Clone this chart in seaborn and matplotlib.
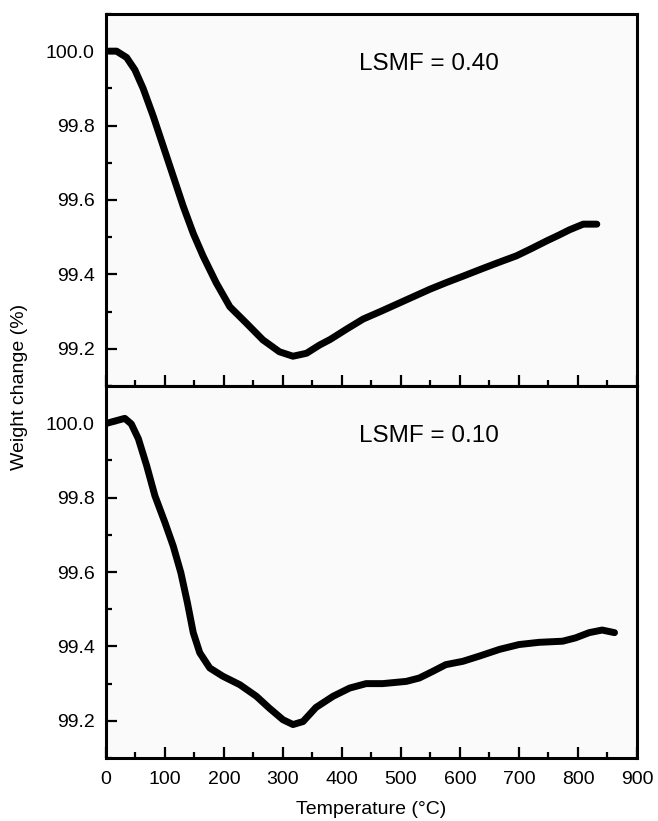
import pandas as pd
import matplotlib.pyplot as plt
import seaborn as sns
from matplotlib.ticker import MultipleLocator

# Curva TGA para LSMF = 0.40 (painel superior)
temp_040 = [5, 18, 35, 49, 63, 80, 97, 114, 131, 148, 165, 187, 210, 238, 266,
            294, 317, 340, 362, 380, 408, 436, 465, 493, 521, 549, 577, 605, 634,
            662, 696, 722, 747, 767, 786, 809, 832]
peso_040 = [100.0, 100.0, 99.983, 99.95, 99.90, 99.826, 99.745, 99.664, 99.583,
            99.51, 99.448, 99.377, 99.313, 99.269, 99.224, 99.192, 99.18, 99.188,
            99.21, 99.225, 99.253, 99.28, 99.30, 99.32, 99.34, 99.36, 99.378,
            99.395, 99.413, 99.43, 99.45, 99.47, 99.49, 99.505, 99.52, 99.535, 99.535]

# Curva TGA para LSMF = 0.10 (painel inferior)
temp_010 = [2, 18, 32, 43, 55, 69, 83, 100, 114, 127, 138, 148, 159, 176, 198, 227,
            255, 277, 300, 317, 334, 356, 385, 413, 441, 469, 509, 531, 554, 576,
            605, 633, 667, 700, 734, 774, 796, 819, 841, 862]
peso_010 = [100.0, 100.007, 100.013, 99.998, 99.958, 99.886, 99.805, 99.733, 99.67,
            99.598, 99.518, 99.437, 99.383, 99.342, 99.32, 99.297, 99.266, 99.234,
            99.203, 99.19, 99.198, 99.236, 99.266, 99.288, 99.30, 99.30, 99.306,
            99.315, 99.333, 99.351, 99.36, 99.374, 99.392, 99.405, 99.411, 99.414,
            99.423, 99.437, 99.444, 99.437]

rotulos = ['LSMF = 0.40', 'LSMF = 0.10']

sns.set_style("ticks")
plt.rcParams['font.family'] = ['Liberation Sans', 'DejaVu Sans']
for chave in ['text.color', 'axes.labelcolor', 'xtick.color', 'ytick.color',
              'axes.edgecolor']:
    plt.rcParams[chave] = 'black'

fig, axes = plt.subplots(2, 1, figsize=(6.58, 8.21), sharex=True)
fig.subplots_adjust(left=0.161, right=0.968, top=0.983, bottom=0.0767, hspace=0)

dados = [(temp_040, peso_040), (temp_010, peso_010)]
for ax, (t, p), rotulo in zip(axes, dados, rotulos):
    df = pd.DataFrame({'Temperatura': t, 'Peso': p})
    sns.lineplot(x='Temperatura', y='Peso', data=df, ax=ax, sort=False,
                 color='black', linewidth=5, solid_capstyle='round',
                 solid_joinstyle='round')
    ax.set_facecolor('#fafafa')
    ax.set_xlim(0, 900)
    ax.set_ylim(99.1, 100.1)
    ax.set_yticks([99.2, 99.4, 99.6, 99.8, 100.0])
    ax.set_yticklabels(['99.2', '99.4', '99.6', '99.8', '100.0'])
    ax.yaxis.set_minor_locator(MultipleLocator(0.1))
    ax.xaxis.set_major_locator(MultipleLocator(100))
    ax.xaxis.set_minor_locator(MultipleLocator(50))
    ax.tick_params(which='major', direction='in', length=8, width=1.6,
                   labelsize=14, top=False, right=False)
    ax.tick_params(which='minor', direction='in', length=4, width=1.6,
                   top=False, right=False)
    ax.tick_params(axis='y', which='major', pad=8)
    ax.tick_params(axis='x', which='major', pad=9)
    for s in ax.spines.values():
        s.set_linewidth(2.2)
    ax.set_xlabel('')
    ax.set_ylabel('')
    ax.text(547, 99.965, rotulo, fontsize=17.5, ha='center', va='center')

axes[1].set_xlabel('Temperature (°C)', fontsize=14, labelpad=10)
fig.text(0.029, 0.529, 'Weight change (%)', rotation=90, fontsize=14,
         ha='center', va='center')

plt.savefig('out.png', dpi=100)
